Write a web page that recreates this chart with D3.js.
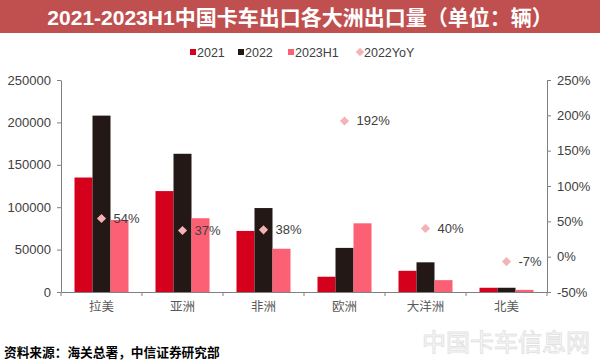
<!DOCTYPE html>
<html><head><meta charset="utf-8">
<script src="https://cdn.jsdelivr.net/npm/d3@7"></script>
<style>body{margin:0;background:#fff;}svg{display:block;font-family:Arial,"Liberation Sans","Noto Sans CJK SC",sans-serif;}</style>
</head><body>
<script>
const categories = ["拉美","亚洲","非洲","欧洲","大洋洲","北美"];
const seriesNames = ["2021","2022","2023H1"];
const v2021 = [135000,119000,72000,18000,25000,5000];
const v2022 = [208000,163000,99000,52000,35000,5000];
const v2023H1 = [85000,87000,51000,81000,14000,2500];
const yoy2022 = [54,37,38,192,40,-7];
const leftTicks = [0,50000,100000,150000,200000,250000];
const rightTicks = [-50,0,50,100,150,200,250];
const colors = {"2021":"#d5001c","2022":"#231815","2023H1":"#fb6075"};
const yoyColor = "#f5b3b5";

const W=600,H=362;
const svg=d3.select("body").append("svg").attr("width",W).attr("height",H);
svg.append("rect").attr("x",0).attr("y",0).attr("width",W).attr("height",33).attr("fill","#c0504f");
svg.append("text").attr("x",300).attr("y",25).attr("text-anchor","middle").attr("fill","#fff")
  .attr("font-size",21).attr("font-weight","bold").text("2021-2023H1中国卡车出口各大洲出口量（单位：辆）");

const L=61,R=547,T=80,B=292;
const x=d3.scaleBand().domain(categories).range([L,R]).padding(0);
const x1=d3.scaleBand().domain(seriesNames).range([0,x.bandwidth()]).paddingInner(0).paddingOuter(0.75);
const y=d3.scaleLinear().domain([0,250000]).range([B,T]);
const yR=d3.scaleLinear().domain([-50,250]).range([B,T]);

const data=categories.map((c,i)=>({c,vals:{"2021":v2021[i],"2022":v2022[i],"2023H1":v2023H1[i]},yoy:yoy2022[i]}));

const g=svg.append("g");
data.forEach(d=>{
  seriesNames.forEach(s=>{
    g.append("rect").attr("x",x(d.c)+x1(s)).attr("width",x1.bandwidth())
      .attr("y",y(d.vals[s])).attr("height",B-y(d.vals[s])).attr("fill",colors[s]);
  });
});

const axisColor="#808080", txtColor="#404040";
const la=svg.append("g").attr("transform",`translate(${L},0)`).call(d3.axisLeft(y).tickValues(leftTicks).tickSize(4).tickSizeOuter(0).tickPadding(6).tickFormat(d=>d));
const ra=svg.append("g").attr("transform",`translate(${R},0)`).call(d3.axisRight(yR).tickValues(rightTicks).tickSize(4).tickSizeOuter(0).tickPadding(6).tickFormat(d=>d+"%"));
const ba=svg.append("g").attr("transform",`translate(0,${B})`).call(d3.axisBottom(x).tickSize(0).tickPadding(10));
[la,ra].forEach(a=>{a.selectAll("text").attr("font-size",13).attr("fill",txtColor).attr("font-family","Arial,'Liberation Sans',sans-serif");});
[la,ra,ba].forEach(a=>{a.selectAll("line,path").attr("stroke",axisColor);});
ba.selectAll("text").attr("font-size",12.5).attr("fill","#595959").attr("font-family","'Noto Sans CJK SC',sans-serif");
ba.append("g").selectAll("line").data(d3.range(categories.length+1)).join("line")
  .attr("x1",i=>L+i*x.step()).attr("x2",i=>L+i*x.step()).attr("y1",0).attr("y2",4).attr("stroke",axisColor);

const sym=d3.symbol().type(d3.symbolSquare).size(42);
data.forEach(d=>{
  const cx=x(d.c)+x.bandwidth()/2, cy=yR(d.yoy);
  svg.append("path").attr("d",sym()).attr("transform",`translate(${cx},${cy}) rotate(45)`).attr("fill",yoyColor);
  svg.append("text").attr("x",cx+12).attr("y",cy+4.5).attr("font-size",13).attr("fill",txtColor).text(d.yoy+"%");
});

const leg=svg.append("g").attr("font-size",12.5).attr("fill",txtColor);
const legItems=[{n:"2021",x:190,t:"sq",c:colors["2021"]},{n:"2022",x:238,t:"sq",c:colors["2022"]},{n:"2023H1",x:288,t:"sq",c:colors["2023H1"]},{n:"2022YoY",x:357,t:"dm",c:yoyColor}];
legItems.forEach(it=>{
  if(it.t==="sq") leg.append("rect").attr("x",it.x).attr("y",49).attr("width",6).attr("height",6).attr("fill",it.c);
  else leg.append("path").attr("d",d3.symbol().type(d3.symbolSquare).size(36)()).attr("transform",`translate(${it.x+3},52) rotate(45)`).attr("fill",it.c);
  leg.append("text").attr("x",it.x+7).attr("y",56.5).attr("fill",txtColor).text(it.n);
});

svg.append("text").attr("x",4).attr("y",357).attr("font-size",12.7).attr("font-weight","bold").attr("fill","#000")
  .attr("font-family","'Noto Sans CJK SC',sans-serif").text("资料来源：海关总署，中信证券研究部");
svg.append("text").attr("x",590).attr("y",351).attr("text-anchor","end").attr("font-size",24).attr("fill","none")
  .attr("stroke","#e3e3e3").attr("stroke-width",1).attr("font-family","'Noto Sans CJK SC',sans-serif").text("中国卡车信息网");
</script>
</body></html>
